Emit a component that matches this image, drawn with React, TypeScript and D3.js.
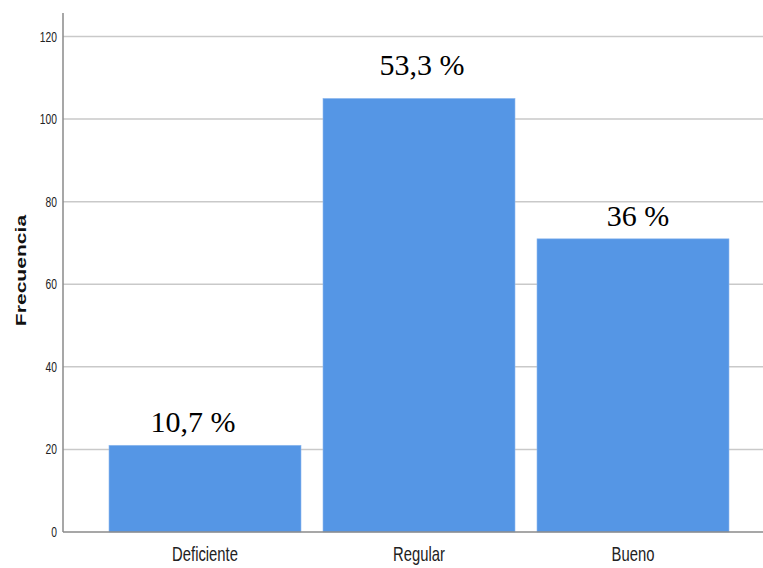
import React from "react";
import * as d3 from "d3";

const categories = ["Deficiente", "Regular", "Bueno"];
const frequencies = [21, 105, 71];
const percentLabels = ["10,7 %", "53,3 %", "36 %"];
const yTicks = [0, 20, 40, 60, 80, 100, 120];
const labelDx = [-12, 3, 5];
const labelDy = [-13, -23, -13];

const W = 763;
const H = 568;
const axisX = 63;
const y0 = 532;
const yTop = 36.5;
const stretch = 1.36;

export default function App() {
  const y = d3.scaleLinear().domain([0, 120]).range([y0, yTop]);
  const x = d3
    .scaleBand<string>()
    .domain(categories)
    .range([109, 729])
    .paddingInner(22 / 214)
    .paddingOuter(0);
  const sans = "'Liberation Sans', Arial, sans-serif";
  return (
    <svg
      width={W}
      height={H}
      style={{ position: "absolute", left: 0, top: 0, background: "#fff" }}
    >
      {yTicks
        .filter((t) => t > 0)
        .map((t) => (
          <line
            key={"g" + t}
            x1={axisX}
            x2={W}
            y1={y(t)}
            y2={y(t)}
            stroke="#c9c9c9"
            strokeWidth={1.5}
          />
        ))}
      {categories.map((c, i) => (
        <rect
          key={c}
          x={x(c)}
          y={y(frequencies[i])}
          width={x.bandwidth()}
          height={y0 - y(frequencies[i])}
          fill="#5596e5"
          stroke="#8fb9ef"
          strokeWidth={0.6}
        />
      ))}
      <line x1={axisX} x2={axisX} y1={13} y2={y0} stroke="#8a8a8a" strokeWidth={1.5} />
      <line x1={axisX} x2={W} y1={y0} y2={y0} stroke="#8a8a8a" strokeWidth={1.5} />
      {yTicks.map((t) => (
        <text
          key={"t" + t}
          transform={`translate(57, ${y(t)}) scale(1, ${stretch})`}
          dy="0.36em"
          textAnchor="end"
          fontFamily={sans}
          fontSize={10.3}
          fill="#222"
        >
          {t}
        </text>
      ))}
      {categories.map((c) => (
        <text
          key={"c" + c}
          transform={`translate(${(x(c) as number) + x.bandwidth() / 2}, 561) scale(1, ${stretch})`}
          textAnchor="middle"
          fontFamily={sans}
          fontSize={14.8}
          fill="#222"
        >
          {c}
        </text>
      ))}
      {categories.map((c, i) => (
        <text
          key={"p" + c}
          x={(x(c) as number) + x.bandwidth() / 2 + labelDx[i]}
          y={y(frequencies[i]) + labelDy[i]}
          textAnchor="middle"
          fontFamily="'Liberation Serif', 'Times New Roman', serif"
          fontSize={30}
          fill="#000"
        >
          {percentLabels[i]}
        </text>
      ))}
      <text
        transform={`translate(26, 270.5) rotate(-90) scale(${stretch}, 1)`}
        textAnchor="middle"
        fontFamily={sans}
        fontWeight="bold"
        fontSize={15.5}
        fill="#111"
      >
        Frecuencia
      </text>
    </svg>
  );
}
